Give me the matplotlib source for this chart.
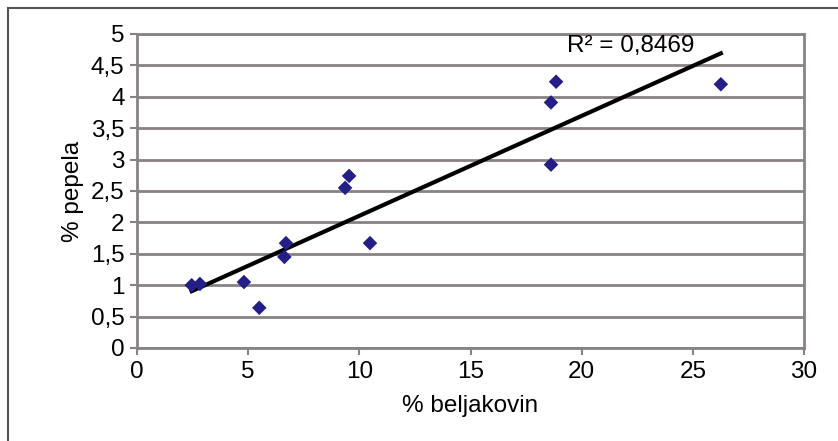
import matplotlib.pyplot as plt
import numpy as np
from matplotlib.ticker import FuncFormatter, MultipleLocator
from matplotlib.patches import Rectangle

plt.rcParams['font.family'] = ['Liberation Sans', 'DejaVu Sans']

# data
beljakovine = [2.46, 2.83, 4.81, 5.50, 6.70, 6.63, 9.36, 9.54, 10.48,
               18.62, 18.85, 18.62, 26.26]
pepel = [1.00, 1.02, 1.05, 0.64, 1.67, 1.45, 2.55, 2.74, 1.67,
         3.91, 4.24, 2.92, 4.20]
r2_text = "R² = 0,8469"

grid_col = "#8a8282"
fs = 17.5

fig = plt.figure(figsize=(8.38, 4.41), dpi=100)
fig.patches.append(Rectangle((8 / 838, -0.1), 1.2, 1 - 8 / 441 + 0.1,
                             transform=fig.transFigure, fill=False,
                             edgecolor="#555555", linewidth=1.5))
ax = fig.add_axes([137 / 838, 1 - 348 / 441, (804 - 137) / 838, (348 - 34) / 441])

ax.set_xlim(0, 30)
ax.set_ylim(0, 5)
ax.xaxis.set_major_locator(MultipleLocator(5))
ax.yaxis.set_major_locator(MultipleLocator(0.5))
ax.yaxis.set_major_formatter(FuncFormatter(lambda v, p: f"{v:g}".replace(".", ",")))

ax.grid(axis="y", color=grid_col, linewidth=2)
ax.set_axisbelow(True)
for s in ax.spines.values():
    s.set_color(grid_col)
    s.set_linewidth(2)
ax.tick_params(direction="out", length=5, width=1.5, color=grid_col,
               labelsize=fs, pad=4)

# linear trend line
k, n = np.polyfit(beljakovine, pepel, 1)
xs = np.array([min(beljakovine), max(beljakovine)])
ax.plot(xs, k * xs + n, color="black", linewidth=3, zorder=2)

ax.scatter(beljakovine, pepel, marker="D", s=55, color="#231f87",
           edgecolors="none", zorder=3)

ax.text(22.2, 4.63, r2_text, fontsize=fs, ha="center", va="bottom")

ax.set_xlabel("% beljakovin", fontsize=fs, labelpad=9)
ax.set_ylabel("% pepela", fontsize=fs, labelpad=5)

fig.savefig("out.png", dpi=100)
